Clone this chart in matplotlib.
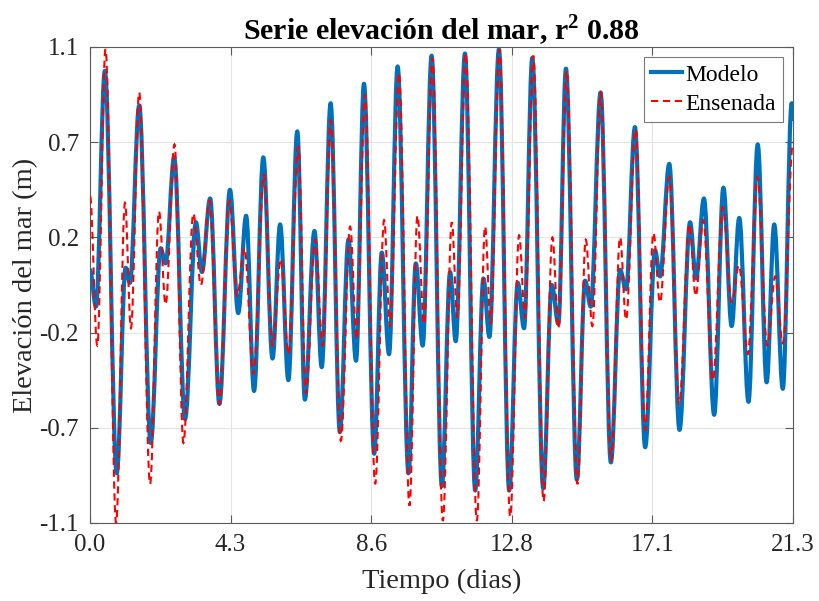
import matplotlib

matplotlib.use("Agg")
import matplotlib.pyplot as plt
import numpy as np
from matplotlib.lines import Line2D
from matplotlib.patches import PathPatch
from matplotlib.path import Path


# extrema (time in days, elevation in m)
MODELO_T = [
    0.00, 0.18, 0.45, 0.81, 1.08, 1.21, 1.49, 1.84, 2.14, 2.29, 2.55, 2.88,
    3.21, 3.39, 3.64, 3.92, 4.24, 4.49, 4.73, 4.97, 5.25, 5.53, 5.76, 6.01,
    6.28, 6.51, 6.80, 7.02, 7.29, 7.57, 7.83, 8.06, 8.30, 8.61, 8.84, 9.06,
    9.32, 9.65, 9.87, 10.08, 10.35, 10.66, 10.91, 11.08, 11.36, 11.67, 11.92, 12.10,
    12.39, 12.70, 12.96, 13.15, 13.40, 13.73, 13.99, 14.19, 14.42, 14.75, 15.00, 15.17,
    15.47, 15.78, 16.06, 16.24, 16.51, 16.82, 17.12, 17.27, 17.55, 17.86, 18.18, 18.36,
    18.60, 18.91, 19.19, 19.44, 19.67, 19.95, 20.23, 20.50, 20.73, 20.99, 21.26, 21.30,
]
MODELO_V = [
    0.07, -0.10, 0.99, -0.87, 0.08, 0.01, 0.83, -0.73, 0.17, 0.10, 0.59, -0.62,
    0.29, 0.06, 0.40, -0.55, 0.44, -0.13, 0.32, -0.49, 0.59, -0.34, 0.28, -0.44,
    0.71, -0.53, 0.25, -0.38, 0.84, -0.68, 0.21, -0.35, 0.93, -0.78, 0.15, -0.32,
    1.01, -0.87, 0.10, -0.28, 1.06, -0.93, 0.06, -0.26, 1.07, -0.95, 0.03, -0.24,
    1.09, -0.95, 0.01, -0.20, 1.05, -0.94, 0.00, -0.18, 1.00, -0.90, 0.02, -0.10,
    0.89, -0.82, 0.07, -0.02, 0.73, -0.75, 0.16, 0.04, 0.56, -0.67, 0.29, 0.03,
    0.40, -0.60, 0.45, -0.19, 0.31, -0.54, 0.65, -0.45, 0.28, -0.48, 0.84, 0.76,
]

ENSENADA_T = [
    0.00, 0.22, 0.47, 0.79, 1.06, 1.24, 1.49, 1.82, 2.09, 2.29, 2.56, 2.83,
    3.13, 3.36, 3.62, 3.92, 4.22, 4.46, 4.68, 4.95, 5.27, 5.53, 5.78, 6.01,
    6.31, 6.54, 6.82, 7.05, 7.29, 7.60, 7.88, 8.08, 8.33, 8.64, 8.91, 9.09,
    9.36, 9.68, 9.92, 10.12, 10.37, 10.69, 10.96, 11.13, 11.38, 11.72, 11.97, 12.14,
    12.40, 12.73, 13.00, 13.18, 13.43, 13.74, 14.01, 14.19, 14.44, 14.77, 15.02, 15.22,
    15.47, 15.79, 16.06, 16.24, 16.53, 16.82, 17.07, 17.27, 17.55, 17.85, 18.16, 18.35,
    18.58, 18.87, 19.17, 19.44, 19.66, 19.93, 20.22, 20.52, 20.76, 20.99, 21.30,
]
ENSENADA_V = [
    0.41, -0.28, 1.09, -1.10, 0.38, -0.20, 0.89, -0.92, 0.34, -0.09, 0.65, -0.73,
    0.33, 0.00, 0.39, -0.55, 0.39, -0.05, 0.17, -0.41, 0.51, -0.28, 0.12, -0.32,
    0.64, -0.50, 0.21, -0.28, 0.76, -0.72, 0.27, -0.25, 0.88, -0.92, 0.30, -0.19,
    0.98, -1.02, 0.32, -0.18, 1.05, -1.09, 0.29, -0.15, 1.07, -1.09, 0.27, -0.18,
    1.09, -1.07, 0.23, -0.15, 1.06, -1.00, 0.22, -0.20, 0.99, -0.92, 0.21, -0.19,
    0.89, -0.81, 0.22, -0.16, 0.72, -0.67, 0.24, -0.08, 0.50, -0.55, 0.28, -0.05,
    0.30, -0.44, 0.36, -0.08, 0.09, -0.32, 0.50, -0.28, 0.04, -0.27, 0.66,
]

X_TICK_LABELS = ["0.0", "4.3", "8.6", "12.8", "17.1", "21.3"]
Y_TICK_LABELS = ["-1.1", "-0.7", "-0.2", "0.2", "0.7", "1.1"]
T_MAX = 21.3
Y_LIM = 1.1

BLUE = "#0072BD"
RED = "#FF0000"
AX_COLOR = "#262626"
BLUE_LW = 3.0
RED_LW = 1.5
RED_DASH = (3.5, 2.2)


def smooth_path(times, values) -> Path:
    # cubic bezier between consecutive extrema, flat tangents at each turning point
    verts = [(times[0], values[0])]
    codes = [Path.MOVETO]
    for t0, v0, t1, v1 in zip(times[:-1], values[:-1], times[1:], values[1:]):
        dt = t1 - t0
        verts += [(t0 + 0.364 * dt, v0), (t1 - 0.364 * dt, v1), (t1, v1)]
        codes += [Path.CURVE4] * 3
    return Path(verts, codes)


def main() -> None:
    plt.rcParams["font.family"] = ["Liberation Serif", "DejaVu Serif"]
    plt.rcParams["mathtext.fontset"] = "custom"
    plt.rcParams["mathtext.rm"] = "Liberation Serif"
    plt.rcParams["mathtext.bf"] = "Liberation Serif:bold"

    fig = plt.figure(figsize=(8.19, 6.01), dpi=100)
    ax = fig.add_axes([0.1099, 0.1298, 0.8584, 0.7920])

    ax.add_patch(PathPatch(smooth_path(MODELO_T, MODELO_V), fill=False, edgecolor=BLUE,
                           lw=BLUE_LW, capstyle="butt", joinstyle="round", zorder=3))
    ax.add_patch(PathPatch(smooth_path(ENSENADA_T, ENSENADA_V), fill=False, edgecolor=RED,
                           lw=RED_LW, linestyle=(0, RED_DASH), zorder=4))

    ax.set_xlim(0, T_MAX)
    ax.set_ylim(-Y_LIM, Y_LIM)
    ax.set_xticks(np.linspace(0, T_MAX, 6))
    ax.set_xticklabels(X_TICK_LABELS)
    ax.set_yticks(np.linspace(-Y_LIM, Y_LIM, 6))
    ax.set_yticklabels(Y_TICK_LABELS)

    ax.grid(True, color="#e4e4e4", lw=0.8, zorder=0)
    ax.set_axisbelow(True)
    for spine in ax.spines.values():
        spine.set_color("#5a5a5a")
        spine.set_linewidth(0.8)
    ax.tick_params(direction="in", length=6, width=0.8, color="#5a5a5a",
                   top=True, right=True, labelsize=18, labelcolor=AX_COLOR, pad=8)

    ax.set_xlabel("Tiempo (dias)", fontsize=20.5, color=AX_COLOR, labelpad=9)
    ax.set_ylabel("Elevación del mar (m)", fontsize=20.5, color=AX_COLOR, labelpad=1)
    ax.set_title(r"Serie elevación del mar, r$^{\mathbf{2}}$ 0.88", fontsize=21.5,
                 fontweight="bold", color="black", pad=5)

    handles = [
        Line2D([], [], color=BLUE, lw=BLUE_LW),
        Line2D([], [], color=RED, lw=RED_LW, dashes=RED_DASH),
    ]
    leg = ax.legend(handles, ["Modelo", "Ensenada"], loc="upper right", fontsize=17,
                    handlelength=1.3, handletextpad=0.15, borderaxespad=0.42,
                    borderpad=0.3, labelspacing=0.32, frameon=True, fancybox=False,
                    framealpha=1.0)
    leg.get_frame().set_edgecolor("#7a7a7a")
    leg.get_frame().set_linewidth(0.8)

    fig.savefig("out.png", dpi=100)
    plt.close(fig)


if __name__ == "__main__":
    main()
